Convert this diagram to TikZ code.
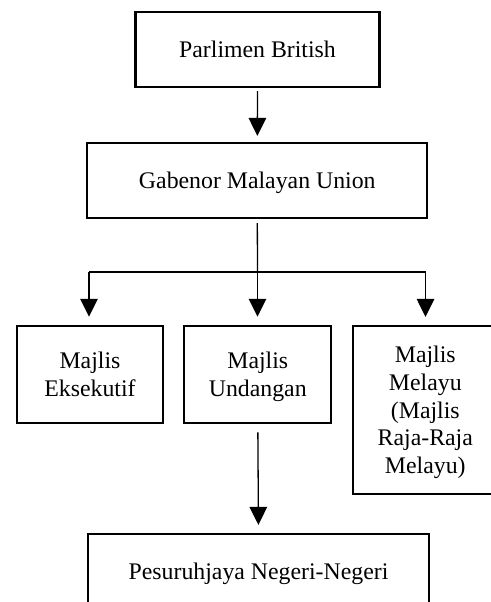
\documentclass[tikz,border=0pt]{standalone}
\usepackage{fontspec}
\setmainfont{Liberation Serif}
\usetikzlibrary{arrows.meta}
\tikzset{
	box/.style={draw, line width=2.2pt, inner sep=0pt, align=center, font=\fontsize{23.8}{27.7}\selectfont},
	oneline/.style={text height=20.8pt, text depth=5pt},
	manyline/.style={text depth=-5pt},
	link/.style={line width=1.3pt},
	arrow/.style={line width=1.3pt, -{Triangle[length=18pt,width=17.5pt]}, shorten >=8pt}
}

\begin{document}
\begin{tikzpicture}[x=1pt,y=-1pt]
	%%%%% START %%%%%
	
	\useasboundingbox (0, 0) rectangle (490, 602);
	
	\node[box, oneline, minimum width=244pt, minimum height=75pt] (parlimen) at (257.5, 49.5) {Parlimen British};
	\node[box, oneline, minimum width=340pt, minimum height=75pt] (gabenor) at (257.3, 180.5) {Gabenor Malayan Union};
	
	\node[box, manyline, minimum width=146.6pt, minimum height=97.3pt] (eksekutif) at (90, 374.5) {Majlis\\Eksekutif};
	\node[box, manyline, minimum width=147pt, minimum height=97.3pt] (undangan) at (257.8, 374.5) {Majlis\\Undangan};
	\node[box, manyline, minimum width=144.5pt, minimum height=168pt] (melayu) at (425.3, 410) {Majlis\\Melayu\\(Majlis\\Raja-Raja\\Melayu)};
	
	\node[box, oneline, minimum width=341pt, minimum height=75pt] (pesuruhjaya) at (258.5, 571.5) {Pesuruhjaya Negeri-Negeri};
	
	\coordinate (barL) at (89, 272);
	\coordinate (barM) at (257.5, 272);
	\coordinate (barR) at (425.5, 272);
	
	\draw[arrow, shorten <=3pt, shorten >=6pt] (parlimen.south) -- (gabenor.north);
	\draw[link, shorten <=4pt] (gabenor.south) -- (barM);
	\draw[link] (barL) -- (barR);
	\draw[arrow] (barL) -- (barL |- eksekutif.north);
	\draw[arrow] (barM) -- (barM |- undangan.north);
	\draw[arrow] (barR) -- (barR |- melayu.north);
	\draw[arrow, shorten <=8pt] (undangan.south) -- (pesuruhjaya.north);
	
	%%%%% END %%%%%
\end{tikzpicture}
\end{document}
